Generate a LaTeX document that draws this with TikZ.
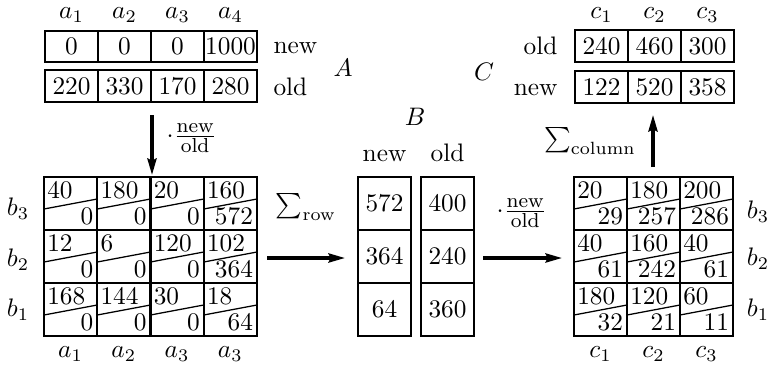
\documentclass[tikz,border=0pt]{standalone}
\usetikzlibrary{arrows.meta}
\newcommand{\nofrac}{$\cdot\frac{\mbox{\footnotesize new}}{\mbox{\footnotesize old}}$}
\begin{document}
\begin{tikzpicture}[x=0.395pt,y=-0.395pt,
  box/.style={line width=0.8pt},
  diag/.style={line width=0.5pt},
  val/.style={inner sep=0pt, text height=6.5pt, text depth=0pt},
  tl/.style={anchor=north west, inner xsep=1.1pt, inner ysep=1.9pt, text height=6.5pt, text depth=0pt},
  br/.style={anchor=south east, inner xsep=1.4pt, inner ysep=1.9pt, text height=6.5pt, text depth=0pt},
  word/.style={inner sep=0pt, text height=6.9pt, text depth=0pt},
  lbl/.style={inner sep=0pt},
  arr/.style={line width=1.2pt, -{Stealth[length=6.5pt,width=3.6pt,inset=0.8pt]}},
]
\useasboundingbox (0,0) rectangle (772,366);

% ---------- A: top-left arrays ----------
\foreach \v [count=\i from 0] in {0,0,0,1000} {
  \draw[box] ({45+53*\i},31) rectangle ({98+53*\i},62);
  \node[val] (An\i) at ({71.5+53*\i},46.5) {\v};
}
\foreach \v [count=\i from 0] in {220,330,170,280} {
  \draw[box] ({45+53*\i},70) rectangle ({98+53*\i},102);
  \node[val] (Ao\i) at ({71.5+53*\i},86) {\v};
}
\foreach \s [count=\i from 0] in {1,2,3,4} {
  \node[lbl] (at\i) at ({71.5+53*\i},15) {$a_{\s}$};
}
\node[word, anchor=west] (Anew) at (273,45) {new};
\node[word, anchor=west] (Aold) at (273,87) {old};
\node[lbl] (Alab) at (343,68) {$A$};

% ---------- left matrix ----------
\foreach \c/\r/\t/\b in {0/0/40/0, 1/0/180/0, 2/0/20/0, 3/0/160/572,
                         0/1/12/0, 1/1/6/0, 2/1/120/0, 3/1/102/364,
                         0/2/168/0, 1/2/144/0, 2/2/30/0, 3/2/18/64} {
  \pgfmathsetmacro\xl{44+53.25*\c}
  \pgfmathsetmacro\yt{177+53*\r}
  \draw[box] (\xl,\yt) rectangle ++(53.25,53);
  \draw[diag] (\xl,\yt+32) -- (\xl+53.25,\yt+22);
  \node[tl] (L\c\r t) at (\xl,\yt) {\t};
  \node[br] (L\c\r b) at (\xl+53.25,\yt+53) {\b};
}
\node[lbl] (lb3) at (18,209) {$b_3$};
\node[lbl] (lb2) at (18,260) {$b_2$};
\node[lbl] (lb1) at (18,310) {$b_1$};
\foreach \s [count=\i from 0] in {1,2,3,3} {
  \node[lbl] (ab\i) at ({70.6+53.25*\i},354) {$a_{\s}$};
}

% ---------- B ----------
\foreach \v [count=\i from 0] in {572,364,64} {
  \draw[box] (358,{177+53*\i}) rectangle (411,{230+53*\i});
  \node[val] (Bn\i) at (384.5,{203.5+53*\i}) {\v};
}
\foreach \v [count=\i from 0] in {400,240,360} {
  \draw[box] (421,{177+53*\i}) rectangle (474,{230+53*\i});
  \node[val] (Bo\i) at (447.5,{203.5+53*\i}) {\v};
}
\node[lbl] (Blab) at (415,117) {$B$};
\node[word] (Bnew) at (384.5,153) {new};
\node[word] (Bold) at (447.5,153) {old};

% ---------- right matrix ----------
\foreach \c/\r/\t/\b in {0/0/20/29, 1/0/180/257, 2/0/200/286,
                         0/1/40/61, 1/1/160/242, 2/1/40/61,
                         0/2/180/32, 1/2/120/21, 2/2/60/11} {
  \pgfmathsetmacro\xl{574+53*\c}
  \pgfmathsetmacro\yt{177+53*\r}
  \draw[box] (\xl,\yt) rectangle ++(53,53);
  \draw[diag] (\xl,\yt+32) -- (\xl+53,\yt+22);
  \node[tl] (R\c\r t) at (\xl,\yt) {\t};
  \node[br] (R\c\r b) at (\xl+53,\yt+53) {\b};
}
\node[lbl] (rb3) at (758,212) {$b_3$};
\node[lbl] (rb2) at (758,259) {$b_2$};
\node[lbl] (rb1) at (758,310) {$b_1$};
\foreach \s [count=\i from 0] in {1,2,3} {
  \node[lbl] (cb\i) at ({600.5+53*\i},354) {$c_{\s}$};
}

% ---------- C: top-right arrays ----------
\foreach \v [count=\i from 0] in {240,460,300} {
  \draw[box] ({575+53*\i},30) rectangle ({628+53*\i},62);
  \node[val] (Co\i) at ({601.5+53*\i},46) {\v};
}
\foreach \v [count=\i from 0] in {122,520,358} {
  \draw[box] ({575+53*\i},71) rectangle ({628+53*\i},103);
  \node[val] (Cn\i) at ({601.5+53*\i},87) {\v};
}
\foreach \s [count=\i from 0] in {1,2,3} {
  \node[lbl] (ct\i) at ({601.5+53*\i},15) {$c_{\s}$};
}
\node[word, anchor=east] (Cold) at (558,46) {old};
\node[word, anchor=east] (Cnew) at (558,87) {new};
\node[lbl] (Clab) at (484,72) {$C$};

% ---------- arrows ----------
\coordinate (d1) at (152,115);
\coordinate (d2) at (152,175);
\draw[arr] (d1) -- (d2);
\node[lbl, anchor=west] (f1) at (166,138) {\nofrac};

\coordinate (h1) at (267,258);
\coordinate (h2) at (345,258);
\draw[arr] (h1) -- (h2);
\node[lbl] (srow) at (306,207) {$\sum_{\mathrm{row}}$};

\coordinate (h3) at (483,258);
\coordinate (h4) at (562,258);
\draw[arr] (h3) -- (h4);
\node[lbl, anchor=west] (f2) at (496,213) {\nofrac};

\coordinate (u1) at (653,167);
\coordinate (u2) at (653,115);
\draw[arr] (u1) -- (u2);
\node[lbl] (scol) at (590,141) {$\sum_{\mathrm{column}}$};
\end{tikzpicture}
\end{document}
